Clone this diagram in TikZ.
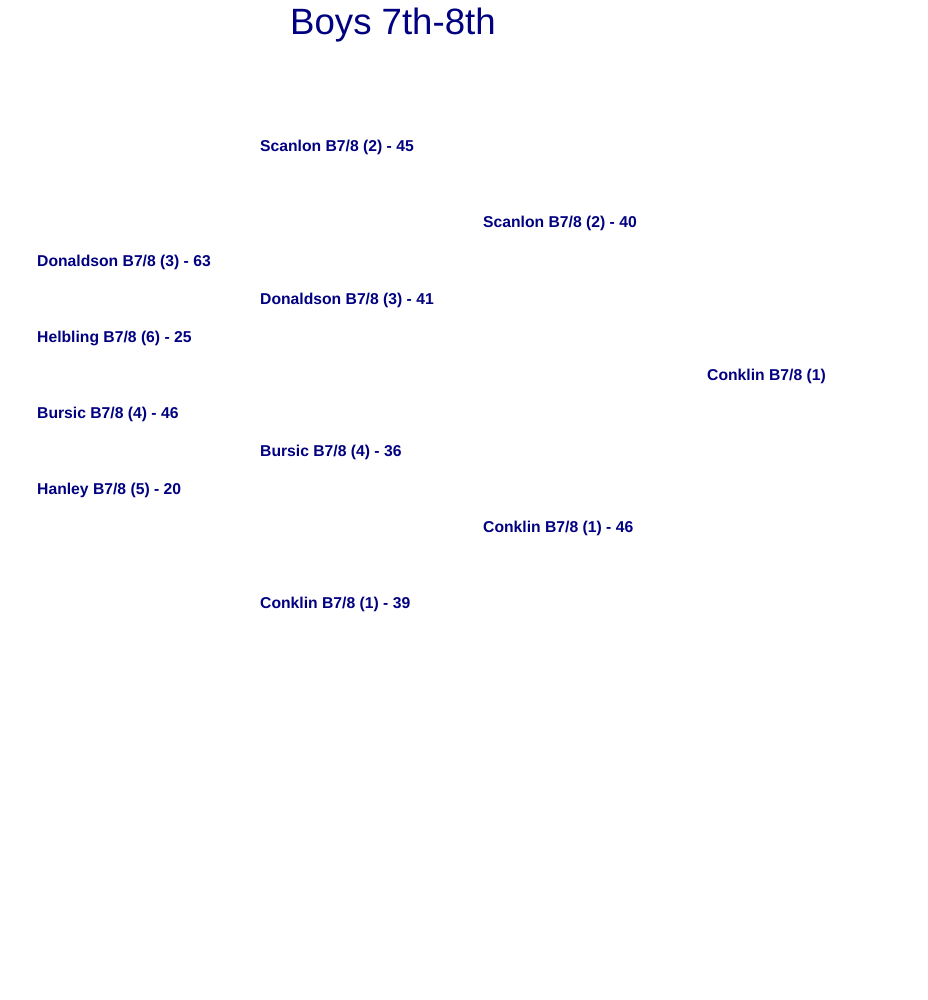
\documentclass[tikz,border=0pt]{standalone}
\usepackage{fontspec}
\setmainfont{Liberation Sans}
\usepackage{tikz}
\definecolor{navy}{RGB}{0, 0, 128}
\tikzset{
	team/.style={
		anchor=base west, inner sep=0pt, text=navy,
		font=\fontsize{15.7}{18}\selectfont\bfseries
	},
	%
	bracket title/.style={
		anchor=base west, inner sep=0pt, text=navy,
		font=\fontsize{36.6}{40}\selectfont
	}
}

\begin{document}
\begin{tikzpicture}[x=1pt, y=-1pt]
\useasboundingbox (0,0) rectangle (927,1000);
\node(title)[bracket title] at (290,35) {Boys 7th-8th};
% round 1
\node(donaldson1)[team] at (37,266) {Donaldson B7/8 (3) - 63};
\node(helbling1)[team] at (37,342) {Helbling B7/8 (6) - 25};
\node(bursic1)[team] at (37,418) {Bursic B7/8 (4) - 46};
\node(hanley1)[team] at (37,494) {Hanley B7/8 (5) - 20};
% round 2
\node(scanlon2)[team] at (260,152) {Scanlon B7/8 (2) - 45};
\node(donaldson2)[team] at (260,304) {Donaldson B7/8 (3) - 41};
\node(bursic2)[team] at (260,456) {Bursic B7/8 (4) - 36};
\node(conklin2)[team] at (260,608) {Conklin B7/8 (1) - 39};
% semifinals
\node(scanlon3)[team] at (483,228) {Scanlon B7/8 (2) - 40};
\node(conklin3)[team] at (483,532) {Conklin B7/8 (1) - 46};
% champion
\node(champion)[team] at (707,380) {Conklin B7/8 (1)};
\end{tikzpicture}
\end{document}
